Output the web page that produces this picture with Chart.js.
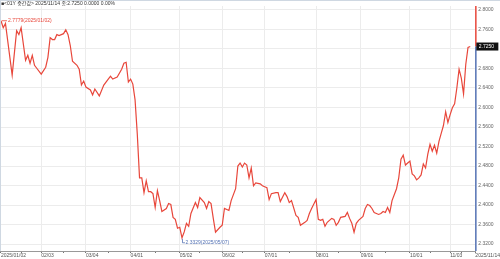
<!DOCTYPE html>
<html>
<head>
<meta charset="utf-8">
<script src="https://cdn.jsdelivr.net/npm/chart.js@4/dist/chart.umd.min.js"></script>
<style>
  html, body { margin: 0; padding: 0; background: #fff; }
  #wrap { width: 500px; height: 259px; }
</style>
</head>
<body>
<div id="wrap"><canvas id="chart" width="500" height="259"></canvas></div>
<script>
// trading-day index (0 = 2025/01/02) and the yield read at that day
const dayIdx = [
  0, 1, 2, 5, 7, 8, 9, 11, 12, 13, 14, 15, 16, 18, 20, 21, 22, 23, 24, 25,
  26, 28, 29, 30, 31, 32, 34, 35, 36, 37, 38, 40, 41, 42, 44, 46, 48, 49, 50, 52,
  54, 55, 56, 57, 58, 59, 60, 61, 62, 63, 64, 65, 66, 67, 68, 69, 70, 71, 72, 74,
  75, 76, 77, 78, 79, 80, 81, 82, 83, 84, 85, 87, 88, 89, 91, 92, 93, 94, 95, 96,
  98, 99, 100, 102, 103, 105, 106, 107, 108, 109, 110, 111, 112, 113, 114, 116, 117, 118, 119, 120,
  121, 123, 124, 125, 127, 128, 129, 130, 132, 133, 134, 136, 137, 138, 139, 141, 142, 143, 144, 145,
  146, 148, 149, 150, 151, 152, 154, 155, 156, 157, 158, 159, 160, 162, 163, 164, 165, 166, 167, 169,
  170, 171, 172, 173, 174, 175, 177, 178, 179, 180, 181, 182, 183, 184, 185, 186, 187, 188, 189, 190,
  191, 192, 193, 194, 195, 196, 197, 198, 199, 200, 201, 202, 203, 204, 205, 206, 207, 208, 209, 210
];
const yields = [
  2.7779, 2.7635, 2.7723, 2.6663, 2.7575, 2.7494, 2.7635, 2.6967, 2.7069, 2.6907, 2.7069, 2.6866, 2.6805, 2.6684, 2.6826, 2.7028, 2.7433, 2.7393, 2.7393, 2.7494,
  2.7474, 2.7514, 2.7595, 2.7494, 2.7271, 2.6947, 2.6866, 2.6785, 2.6461, 2.6542, 2.6420, 2.6360, 2.6259, 2.6380, 2.6238, 2.6461, 2.6583, 2.6643, 2.6583, 2.6623,
  2.6785, 2.6907, 2.6927, 2.6522, 2.6583, 2.6481, 2.6157, 2.5449, 2.4558, 2.4558, 2.4254, 2.4497, 2.4274, 2.4274, 2.4234, 2.3950, 2.4294, 2.4092, 2.3869, 2.3930,
  2.4031, 2.4011, 2.3748, 2.3707, 2.3525, 2.3545, 2.3329, 2.3450, 2.3626, 2.3565, 2.3828, 2.4051, 2.3950, 2.4153, 2.4051, 2.3930, 2.4072, 2.4031, 2.3727, 2.3444,
  2.3545, 2.3586, 2.3930, 2.3889, 2.4092, 2.4335, 2.4800, 2.4861, 2.4780, 2.4861, 2.4821, 2.4558, 2.4760, 2.4396, 2.4456, 2.4436, 2.4396, 2.4375, 2.4355, 2.4112,
  2.4234, 2.4254, 2.4254, 2.4072, 2.4254, 2.4173, 2.4051, 2.4092, 2.3788, 2.3748, 2.3586, 2.3646, 2.3687, 2.3828, 2.3930, 2.4112, 2.3707, 2.3687, 2.3707, 2.3565,
  2.3646, 2.3727, 2.3707, 2.3586, 2.3646, 2.3748, 2.3768, 2.3849, 2.3727, 2.3626, 2.3444, 2.3626, 2.3687, 2.3768, 2.3930, 2.4011, 2.3990, 2.3930, 2.3849, 2.3808,
  2.3828, 2.3869, 2.3849, 2.3950, 2.3849, 2.4092, 2.4335, 2.4558, 2.4942, 2.5023, 2.4821, 2.4861, 2.4902, 2.4638, 2.4598, 2.4517, 2.4558, 2.4618, 2.4841, 2.4760,
  2.5044, 2.5246, 2.5104, 2.5226, 2.5064, 2.5307, 2.5469, 2.5631, 2.5914, 2.5692, 2.5854, 2.5995, 2.6076, 2.6400, 2.6785, 2.6603, 2.6279, 2.6886, 2.7230, 2.7250
];
// dates of the points that carry a high/low note
const dayDates = { 0: '2025/01/02', 81: '2025/05/07' };

// x tick positions (trading-day index) and their texts
const xTickIdx = [0, 18, 38, 58, 80, 99, 118, 141, 161, 183, 201];
const xTickText = ['2025/01/02', '02/03', '03/04', '04/01', '05/02', '06/02', '07/01', '08/01', '09/01', '10/01', '11/03'];
const xEndText = '2025/11/14';
// unlabelled small ticks around mid-month
const xMinorIdx = [9, 28, 48, 69, 89, 108, 129, 151, 172, 192, 206];
const yTickVals = [2.32, 2.36, 2.40, 2.44, 2.48, 2.52, 2.56, 2.60, 2.64, 2.68, 2.72, 2.76, 2.80];

const titleText = '■<01Y 중간값> 2025/11/14 종:2.7250 0.0000 0.00%';

const lineRed = '#e8473b';
const axisBlue = '#5472b4';
const font5 = { size: 5, family: "'Liberation Sans', 'Noto Sans CJK KR', sans-serif" };

const points = dayIdx.map((d, i) => ({ x: d, y: yields[i] }));

// notes for the high and low, last value box, two-colour right axis, title
const decorPlugin = {
  id: 'decor',
  afterDatasetsDraw(chart) {
    const { ctx, chartArea } = chart;
    const xs = chart.scales.x;
    const ys = chart.scales.y;
    ctx.save();
    ctx.font = "5px 'Liberation Sans', 'Noto Sans CJK KR', sans-serif";
    ctx.textBaseline = 'middle';

    let hi = 0, lo = 0;
    yields.forEach((v, i) => { if (v > yields[hi]) hi = i; if (v < yields[lo]) lo = i; });

    // high note
    let px = xs.getPixelForValue(dayIdx[hi]);
    let py = ys.getPixelForValue(yields[hi]);
    ctx.strokeStyle = lineRed;
    ctx.fillStyle = lineRed;
    ctx.lineWidth = 0.8;
    ctx.beginPath();
    ctx.moveTo(px + 1, py);
    ctx.lineTo(px + 6, py);
    ctx.stroke();
    ctx.textAlign = 'left';
    ctx.fillText(yields[hi].toFixed(4) + '(' + dayDates[dayIdx[hi]] + ')', px + 7, py);

    // low note
    px = xs.getPixelForValue(dayIdx[lo]);
    py = ys.getPixelForValue(yields[lo]);
    ctx.strokeStyle = axisBlue;
    ctx.fillStyle = axisBlue;
    ctx.beginPath();
    ctx.moveTo(px + 0.5, py + 1);
    ctx.lineTo(px + 0.5, py + 5);
    ctx.lineTo(px + 3, py + 5);
    ctx.stroke();
    ctx.fillText(yields[lo].toFixed(4) + '(' + dayDates[dayIdx[lo]] + ')', px + 3.5, py + 4.5);

    // right axis line, red above the last value, blue below
    const last = yields[yields.length - 1];
    const ly = ys.getPixelForValue(last);
    const ax = chartArea.right + 0.5;
    ctx.lineWidth = 1.5;
    ctx.strokeStyle = lineRed;
    ctx.beginPath();
    ctx.moveTo(ax, chartArea.top);
    ctx.lineTo(ax, ly);
    ctx.stroke();
    ctx.strokeStyle = axisBlue;
    ctx.beginPath();
    ctx.moveTo(ax, ly);
    ctx.lineTo(ax, chartArea.bottom);
    ctx.stroke();

    // last value box
    ctx.fillStyle = '#111';
    ctx.fillRect(chartArea.right + 1, ly - 4, 22, 8);
    ctx.fillStyle = '#fff';
    ctx.fillText(last.toFixed(4), chartArea.right + 3.5, ly);

    // title and frame
    ctx.fillStyle = '#333';
    ctx.fillText(titleText, 1, 4);
    ctx.strokeStyle = '#cfd8e2';
    ctx.lineWidth = 1;
    ctx.beginPath();
    ctx.moveTo(0, 0.5);
    ctx.lineTo(chart.width, 0.5);
    ctx.moveTo(0.5, 0);
    ctx.lineTo(0.5, chartArea.bottom);
    ctx.stroke();
    ctx.restore();
  }
};

const isMajor = (v) => xTickIdx.includes(v) || v > 211;

new Chart(document.getElementById('chart'), {
  type: 'line',
  data: {
    datasets: [{
      data: points,
      borderColor: lineRed,
      borderWidth: 1.2,
      pointRadius: 0,
      tension: 0,
      fill: false
    }]
  },
  options: {
    responsive: false,
    animation: false,
    events: [],
    layout: { padding: { top: 3, left: 0, right: 0, bottom: 0 } },
    plugins: { legend: { display: false }, tooltip: { enabled: false } },
    scales: {
      x: {
        type: 'linear',
        min: -0.445,
        max: 212.28,
        afterFit: (s) => { s.height = 8; },
        afterBuildTicks: (s) => {
          const all = xTickIdx.concat(xMinorIdx).sort((a, b) => a - b);
          s.ticks = all.map(v => ({ value: v })).concat([{ value: s.max }]);
        },
        ticks: {
          autoSkip: false,
          maxRotation: 0,
          align: 'start',
          padding: 0,
          color: '#555',
          font: font5,
          callback: (v) => {
            const k = xTickIdx.indexOf(v);
            if (k >= 0) return xTickText[k];
            return v > 211 ? xEndText : '';
          }
        },
        grid: {
          color: (c) => (c.tick && isMajor(c.tick.value)) ? '#ececec' : 'rgba(0,0,0,0)',
          tickColor: '#777',
          tickLength: 2,
          lineWidth: 1
        },
        border: { color: '#999', width: 1 }
      },
      y: {
        position: 'right',
        min: 2.30582,
        max: 2.8081,
        afterFit: (s) => { s.width = 22; },
        afterBuildTicks: (s) => { s.ticks = yTickVals.map(v => ({ value: v })); },
        ticks: {
          padding: 3,
          color: '#666',
          font: font5,
          // 2.72 sits under the last value box
          callback: (v) => Math.abs(v - 2.72) < 1e-6 ? '' : v.toFixed(4)
        },
        grid: { color: '#ececec', drawTicks: false },
        border: { display: false }
      }
    }
  },
  plugins: [decorPlugin]
});
</script>
</body>
</html>
